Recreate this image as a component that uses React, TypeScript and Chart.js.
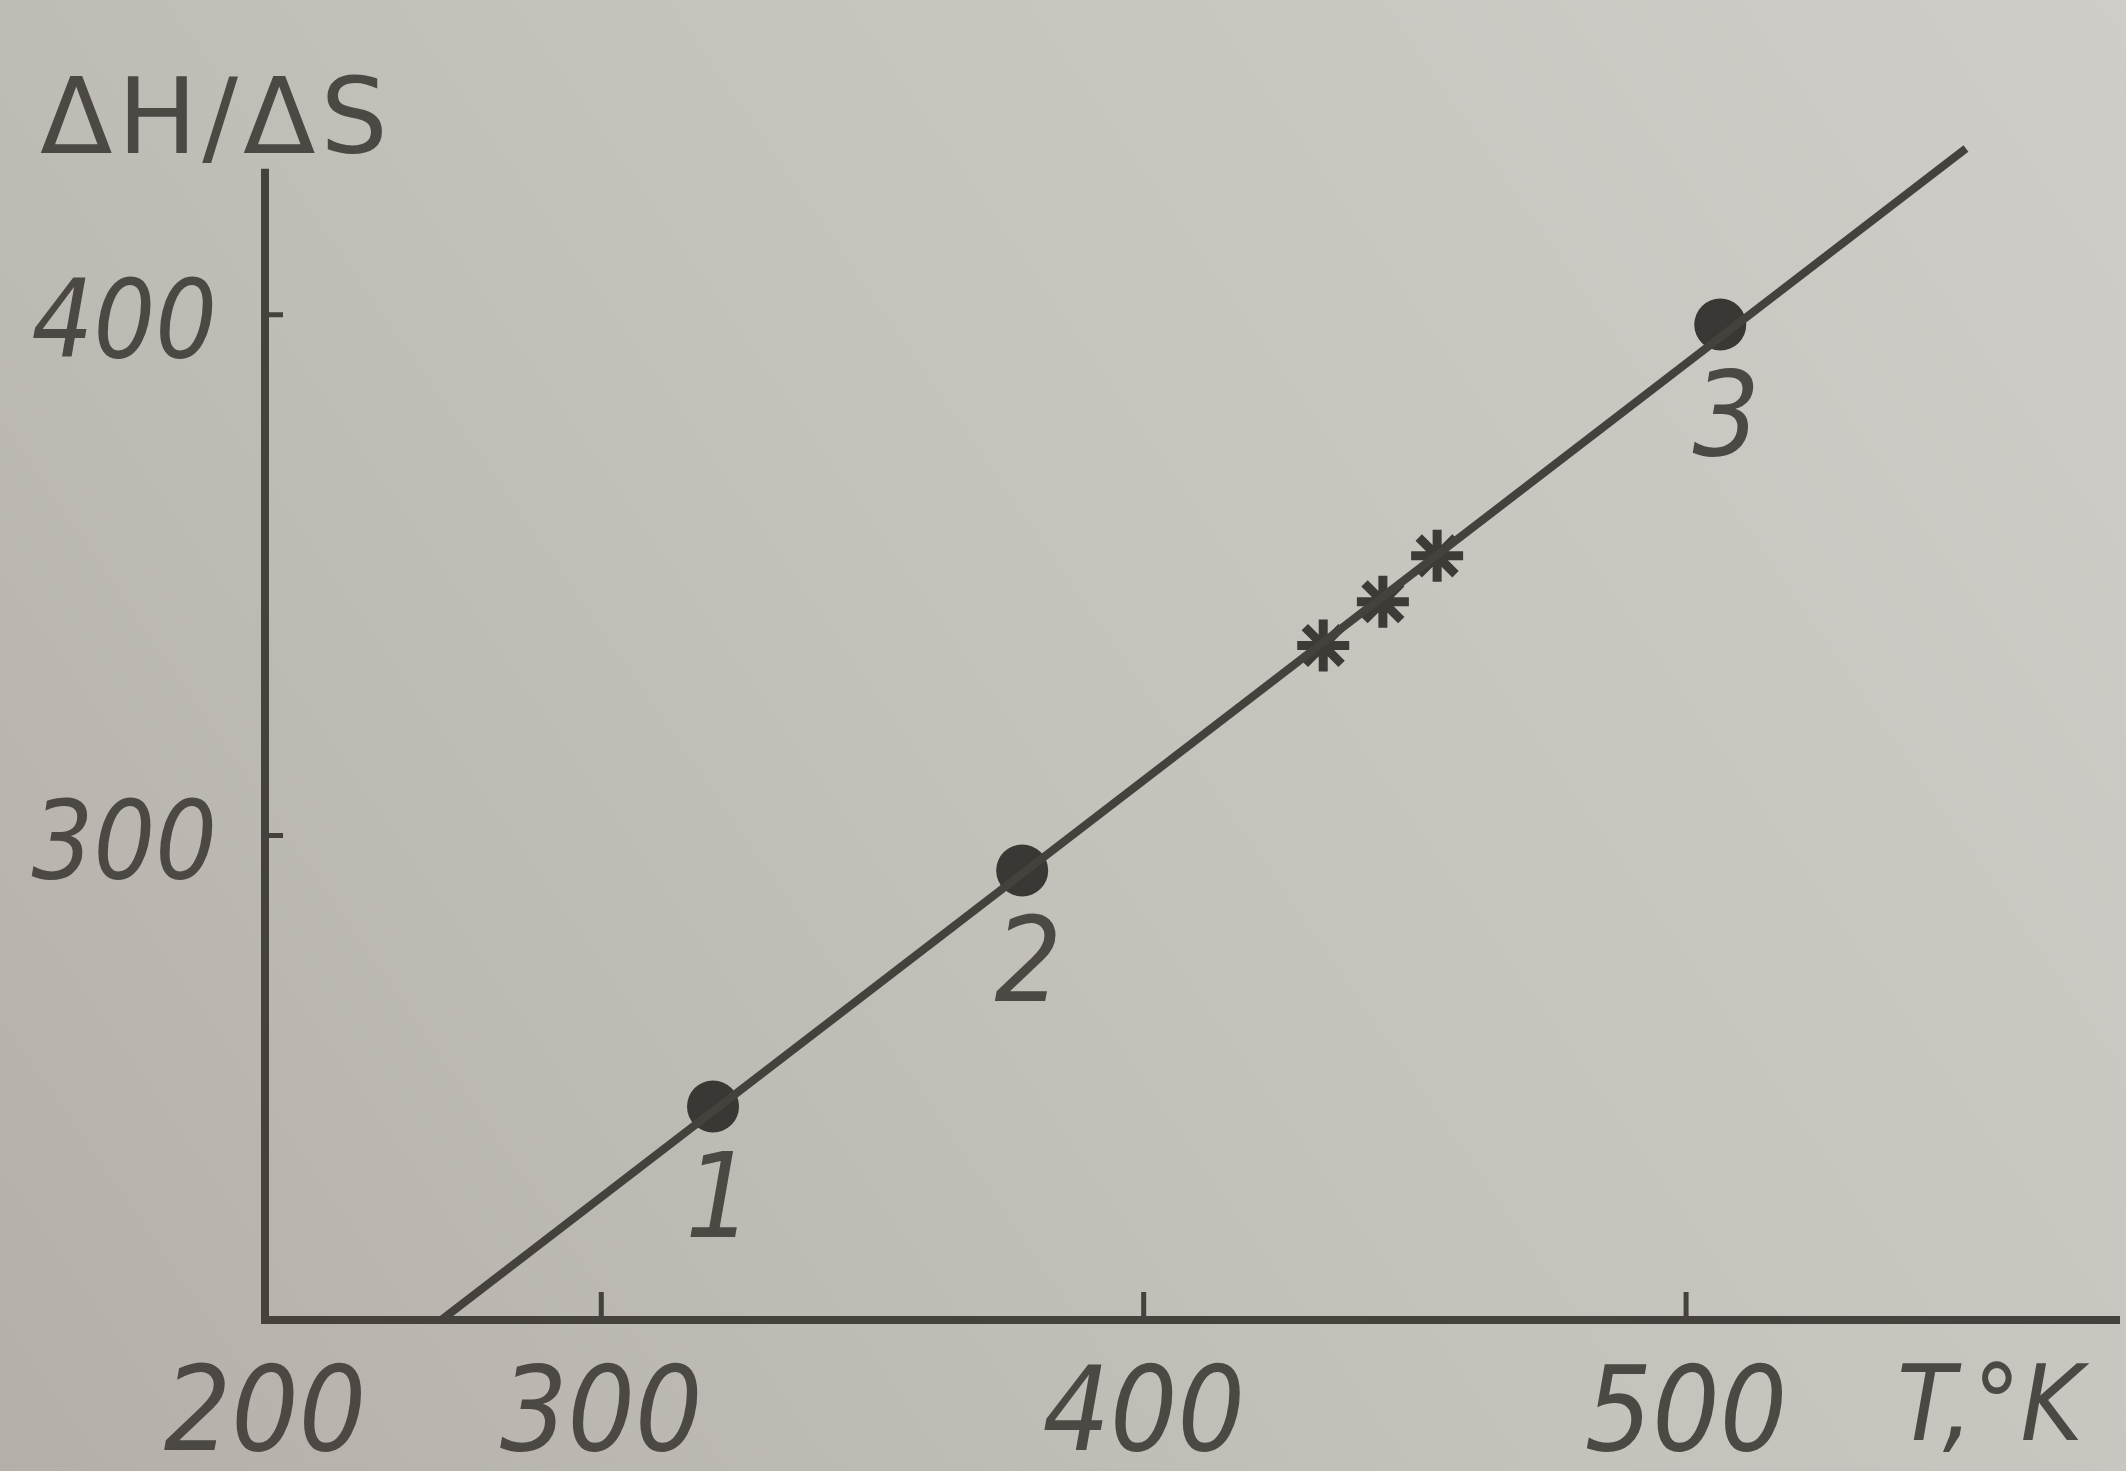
import React, { useEffect, useRef } from "react";
import { Chart, registerables } from "chart.js";

Chart.register(...registerables);

// ---- data ----
const lineT = [270.5, 551.6];
const lineRatio = [207, 431.9];

const pointLabels = ["1", "2", "3"];
const pointT = [320.6, 377.6, 506.3];
const pointRatio = [248.0, 293.3, 398.1];

const starT = [433.1, 444.1, 454.1];
const starRatio = [336.5, 344.9, 353.7];

const xTickValues = [300, 400, 500];
const xOriginLabel = "200";
const yTickValues = [300, 400];
const xAxisTitle = "T,°K";
const yAxisTitle = "ΔH/ΔS";

const X_MIN = 238;
const X_MAX = 580;
const Y_MIN = 207;
const Y_MAX = 432;
const Y_AXIS_TOP = 428;

const INK = "#45413d";
const TEXT = "#4c4844";
const TICK_FONT = "'DejaVu Sans Condensed', 'DejaVu Sans', sans-serif";

const decor = {
  id: "decor",
  beforeDraw(chart: any) {
    const { ctx, width, height } = chart;
    ctx.save();
    const g = ctx.createLinearGradient(0, height, width, 0);
    g.addColorStop(0, "#b4b0a9");
    g.addColorStop(0.5, "#c5c2bc");
    g.addColorStop(1, "#d0cdc8");
    ctx.fillStyle = g;
    ctx.fillRect(0, 0, width, height);
    ctx.restore();
  },
  beforeDatasetsDraw(chart: any) {
    const { ctx } = chart;
    const xs = chart.scales.x;
    const ys = chart.scales.y;
    const x0 = xs.getPixelForValue(X_MIN);
    const y0 = ys.getPixelForValue(Y_MIN);
    ctx.save();
    ctx.strokeStyle = INK;
    ctx.lineWidth = 8;
    ctx.lineJoin = "miter";
    ctx.beginPath();
    ctx.moveTo(x0, ys.getPixelForValue(Y_AXIS_TOP));
    ctx.lineTo(x0, y0);
    ctx.lineTo(xs.getPixelForValue(X_MAX), y0);
    ctx.stroke();
    ctx.lineWidth = 5;
    ctx.beginPath();
    for (const v of yTickValues) {
      const py = ys.getPixelForValue(v);
      ctx.moveTo(x0, py);
      ctx.lineTo(x0 + 18, py);
    }
    for (const v of xTickValues) {
      const px = xs.getPixelForValue(v);
      ctx.moveTo(px, y0);
      ctx.lineTo(px, y0 - 28);
    }
    ctx.stroke();

    ctx.fillStyle = TEXT;
    ctx.textAlign = "left";
    ctx.textBaseline = "alphabetic";
    ctx.font = "106px 'DejaVu Sans', sans-serif";
    (ctx as any).letterSpacing = "5px";
    ctx.fillText(yAxisTitle, 40, 153);
    (ctx as any).letterSpacing = "0px";
    ctx.font = "italic 106px " + TICK_FONT;
    ctx.fillText(xAxisTitle, 1897, 1440);
    ctx.restore();
  },
  afterDatasetsDraw(chart: any) {
    const { ctx } = chart;
    const meta = chart.getDatasetMeta(1);
    ctx.save();
    ctx.fillStyle = TEXT;
    ctx.textAlign = "center";
    ctx.textBaseline = "middle";
    ctx.font = "italic 118px " + TICK_FONT;
    meta.data.forEach((el: any, i: number) => {
      ctx.fillText(pointLabels[i], el.x + 6, el.y + 100);
    });
    ctx.restore();
  },
};

export default function App() {
  const ref = useRef<HTMLCanvasElement>(null);

  useEffect(() => {
    if (!ref.current) return;
    const lineData = lineT.map((t, i) => ({ x: t, y: lineRatio[i] }));
    const pts = pointT.map((t, i) => ({ x: t, y: pointRatio[i] }));
    const stars = starT.map((t, i) => ({ x: t, y: starRatio[i] }));

    const chart = new Chart(ref.current, {
      type: "scatter",
      data: {
        datasets: [
          {
            data: lineData,
            showLine: true,
            borderColor: INK,
            borderWidth: 8,
            pointRadius: 0,
            clip: 20,
          } as any,
          {
            data: pts,
            pointRadius: 26,
            pointBackgroundColor: "#3a3734",
            pointBorderWidth: 0,
            borderWidth: 0,
          } as any,
          {
            data: stars,
            pointStyle: "star",
            pointRadius: 26,
            pointBorderColor: "#3e3a37",
            pointBorderWidth: 9,
            pointBackgroundColor: "#3e3a37",
          } as any,
        ],
      },
      options: {
        responsive: false,
        devicePixelRatio: 1,
        animation: false,
        layout: { autoPadding: false, padding: { left: 0, top: 148, right: 6, bottom: 0 } },
        plugins: { legend: { display: false }, tooltip: { enabled: false } },
        scales: {
          x: {
            type: "linear",
            min: X_MIN,
            max: X_MAX,
            grid: { display: false, drawTicks: false },
            border: { display: false },
            afterBuildTicks: (s: any) => {
              s.ticks = [X_MIN, ...xTickValues].map((v) => ({ value: v }));
            },
            afterFit: (s: any) => {
              s.height = 151;
            },
            ticks: {
              autoSkip: false,
              maxRotation: 0,
              padding: 29,
              color: TEXT,
              font: { family: TICK_FONT, size: 118, style: "italic" },
              callback: (v: any) => (v === X_MIN ? xOriginLabel : String(v)),
            },
          },
          y: {
            type: "linear",
            min: Y_MIN,
            max: Y_MAX,
            grid: { display: false, drawTicks: false },
            border: { display: false },
            afterBuildTicks: (s: any) => {
              s.ticks = yTickValues.map((v) => ({ value: v }));
            },
            afterFit: (s: any) => {
              s.width = 265;
            },
            ticks: {
              autoSkip: false,
              padding: 48,
              labelOffset: 14,
              color: TEXT,
              font: { family: TICK_FONT, size: 108, style: "italic" },
              callback: (v: any) => String(v),
            },
          },
        },
      } as any,
      plugins: [decor],
    });
    return () => chart.destroy();
  }, []);

  return (
    <div style={{ position: "fixed", left: 0, top: 0, width: 2126, height: 1471 }}>
      <canvas ref={ref} width={2126} height={1471} style={{ display: "block" }} />
    </div>
  );
}
